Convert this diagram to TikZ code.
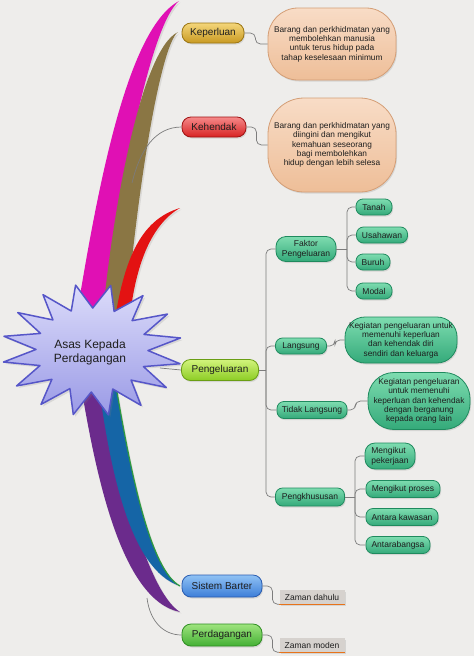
\documentclass[tikz,border=0pt]{standalone}
\usepackage{fontspec}
\setmainfont{Liberation Sans}
\usetikzlibrary{shadows}
\definecolor{bg}{HTML}{EEEDEB}
\definecolor{txt}{HTML}{1E1E1E}
\definecolor{linegray}{HTML}{7C7C7C}
\definecolor{magentaS}{HTML}{E010B4}
\definecolor{oliveS}{HTML}{8A7644}
\definecolor{redS}{HTML}{E31212}
\definecolor{purpleS}{HTML}{6B2B8C}
\definecolor{blueS}{HTML}{1565A6}
\definecolor{greenS}{HTML}{2E9A3E}
\definecolor{starT}{HTML}{DCDCFA}
\definecolor{starB}{HTML}{9A9AE6}
\definecolor{starD}{HTML}{5656C8}
\definecolor{goldT}{HTML}{F4D67A}
\definecolor{goldB}{HTML}{C99A22}
\definecolor{goldD}{HTML}{9C7614}
\definecolor{redT}{HTML}{F58A8A}
\definecolor{redB}{HTML}{D82222}
\definecolor{redD}{HTML}{A01212}
\definecolor{peachT}{HTML}{F8DCC6}
\definecolor{peachB}{HTML}{EEBE98}
\definecolor{peachD}{HTML}{D49E76}
\definecolor{limeT}{HTML}{D2F47C}
\definecolor{limeB}{HTML}{8CCC24}
\definecolor{limeD}{HTML}{6A9E14}
\definecolor{tealT}{HTML}{7EDCB0}
\definecolor{tealB}{HTML}{34AA7A}
\definecolor{tealD}{HTML}{1F8A5E}
\definecolor{blueT}{HTML}{90C2F4}
\definecolor{blueB}{HTML}{3C7ED8}
\definecolor{blueD}{HTML}{2A5CB0}
\definecolor{grnT}{HTML}{9EE47E}
\definecolor{grnB}{HTML}{44B034}
\definecolor{grnD}{HTML}{2F8E22}
\definecolor{grayBox}{HTML}{D6D2CE}
\definecolor{orangeL}{HTML}{E8731A}
\begin{document}
\begin{tikzpicture}[x=1pt,y=-1pt,
  conn/.style={draw=linegray, line width=0.7pt, rounded corners=5pt},
  shd/.style={drop shadow={opacity=0.22, shadow xshift=1pt, shadow yshift=-1.5pt}},
  mainn/.style={shd, rounded corners=9pt, minimum height=20pt, inner sep=0pt,
     font=\fontsize{10}{12}\selectfont, text=txt, line width=0.8pt},
  goldn/.style={mainn, top color=goldT, bottom color=goldB, draw=goldD},
  redn/.style={mainn, top color=redT, bottom color=redB, draw=redD},
  limen/.style={mainn, top color=limeT, bottom color=limeB, draw=limeD},
  bluen/.style={mainn, top color=blueT, bottom color=blueB, draw=blueD},
  grnn/.style={mainn, top color=grnT, bottom color=grnB, draw=grnD},
  tealn/.style={shd, rounded corners=7pt, minimum height=16pt, inner sep=0pt,
     font=\fontsize{8.5}{10}\selectfont, text=txt, line width=0.8pt,
     top color=tealT, bottom color=tealB, draw=tealD},
  tdesc/.style={tealn, align=center, font=\fontsize{8.3}{9.4}\selectfont},
  pdesc/.style={shd, rounded corners=30pt, inner sep=0pt, align=center,
     font=\fontsize{8.3}{9.4}\selectfont, text=txt, line width=0.8pt,
     top color=peachT, bottom color=peachB, draw=peachD},
  grayn/.style={shd, fill=grayBox, inner sep=0pt, minimum height=14pt,
     minimum width=65pt, font=\fontsize{8.5}{10}\selectfont, text=txt},
  orl/.style={draw=orangeL, line width=1.3pt},
  swoosh/.style={drop shadow={opacity=0.18, shadow xshift=1.5pt, shadow yshift=-1.5pt}}
]
\useasboundingbox (0,0) rectangle (474,656);
\fill[bg] (0,0) rectangle (474,656);

% ---- swooshes (upper)
\fill[magentaS, swoosh] (72,345) .. controls (95,200) and (125,30) .. (179,1)
  .. controls (150,25) and (118,190) .. (100,345) -- cycle;
\fill[oliveS, swoosh] (100,345) .. controls (110,220) and (140,50) .. (178,32)
  .. controls (160,45) and (135,200) .. (124,345) -- cycle;
\fill[redS, swoosh] (112,340) .. controls (122,260) and (140,220) .. (180,208)
  .. controls (150,225) and (132,270) .. (128,340) -- cycle;
% ---- swooshes (lower)
\fill[purpleS, swoosh] (80,380) .. controls (95,470) and (120,600) .. (180,612)
  .. controls (145,590) and (115,460) .. (100,380) -- cycle;
\fill[blueS, swoosh] (98,380) .. controls (110,470) and (130,570) .. (180,586)
  .. controls (150,570) and (130,470) .. (115,380) -- cycle;
\draw[greenS, line width=1.2pt] (180,586) .. controls (150,570) and (130,470) .. (115,380);

% ---- nodes
\node[goldn, minimum width=62pt] (kep) at (213,33) {Keperluan};
\node[pdesc, minimum width=128pt, minimum height=72pt] (kepd) at (332,44)
  {Barang dan perkhidmatan yang\\membolehkan manusia\\untuk terus hidup pada\\tahap keselesaan minimum};
\node[redn, minimum width=64pt] (keh) at (214,127) {Kehendak};
\node[pdesc, minimum width=128pt, minimum height=94pt, rounded corners=36pt] (kehd) at (332,145)
  {Barang dan perkhidmatan yang\\diingini dan mengikut\\kemahuan seseorang\\bagi membolehkan\\hidup dengan lebih selesa};
\node[limen, minimum width=77pt, minimum height=21pt] (peng) at (220,370) {Pengeluaran};

\node[tealn, minimum width=60pt, minimum height=25pt, rounded corners=10pt, align=center] (fak) at (306,249) {Faktor\\Pengeluaran};
\node[tealn, minimum width=36pt] (tanah) at (374,207) {Tanah};
\node[tealn, minimum width=51pt] (usa) at (382,235) {Usahawan};
\node[tealn, minimum width=34pt] (buruh) at (373,262) {Buruh};
\node[tealn, minimum width=36pt] (modal) at (374,291) {Modal};

\node[tealn, minimum width=51pt] (lang) at (301,346) {Langsung};
\node[tdesc, minimum width=112pt, minimum height=46pt, rounded corners=20pt] (langd) at (401,340)
  {Kegiatan pengeluaran untuk\\memenuhi keperluan\\dan kehendak diri\\sendiri dan keluarga};
\node[tealn, minimum width=70pt, minimum height=17pt] (tidak) at (312,410) {Tidak Langsung};
\node[tdesc, minimum width=102pt, minimum height=57pt, rounded corners=26pt] (tidakd) at (419,401)
  {Kegiatan pengeluaran\\untuk memenuhi\\keperluan dan kehendak\\dengan berganung\\kepada orang lain};

\node[tealn, minimum width=69pt, minimum height=18pt] (pengk) at (310,497) {Pengkhususan};
\node[tealn, minimum width=50pt, minimum height=26pt, rounded corners=10pt, align=left] (mpek) at (390,456) {Mengikut\\pekerjaan};
\node[tealn, minimum width=74pt, minimum height=17pt] (mpro) at (403,489) {Mengikut proses};
\node[tealn, minimum width=72pt, minimum height=17pt] (akaw) at (402,517) {Antara kawasan};
\node[tealn, minimum width=64pt, minimum height=17pt] (aban) at (398,545) {Antarabangsa};

\node[bluen, minimum width=80pt, minimum height=22pt] (barter) at (222,586) {Sistem Barter};
\node[grayn] (zd) at (312,597) {Zaman dahulu};
\node[grnn, minimum width=80pt, minimum height=22pt] (perd) at (222,635) {Perdagangan};
\node[grayn] (zm) at (312,645) {Zaman moden};
\draw[orl] (zd.south west) -- (zd.south east);
\draw[orl] (zm.south west) -- (zm.south east);

% ---- coordinates for free ends / trunks
\coordinate (kc) at (132,183);
\coordinate (pc) at (160,368);
\coordinate (dc) at (147,598);
\coordinate (tr1) at (266,370);
\coordinate (tr2) at (347,249);
\coordinate (tr3) at (355,497);

% ---- connectors
\draw[conn] (kc) .. controls (140,150) and (155,127) .. (keh.west);
\draw[conn] (dc) .. controls (150,622) and (164,635) .. (perd.west);
\draw[conn] (pc) -- (peng.west);
\draw[conn] (kep.east) -- ++(11,0) |- (kepd.west);
\draw[conn] (keh.east) -- ++(10,0) |- (kehd.west);
\draw[conn] (peng.east) -- (tr1);
\foreach \n in {fak,lang,tidak,pengk} \draw[conn] (tr1) |- (\n.west);
\draw[conn] (fak.east) -- (tr2);
\foreach \n in {tanah,usa,buruh,modal} \draw[conn] (tr2) |- (\n.west);
\draw[conn] (pengk.east) -- (tr3);
\foreach \n in {mpek,mpro,akaw,aban} \draw[conn] (tr3) |- (\n.west);
\draw[conn] (lang.east) -- ++(8,0) |- (langd.west);
\draw[conn] (tidak.east) -- ++(8,0) |- (tidakd.west);
\draw[conn] (barter.east) -- ++(10,0) |- (zd.south west);
\draw[conn] (perd.east) -- ++(10,0) |- (zm.south west);

% ---- star
\path[top color=starT, bottom color=starB, draw=starD, line width=1.5pt, line join=round,
      drop shadow={opacity=0.2, shadow xshift=2pt, shadow yshift=-2pt}]
  plot[variable=\k, samples=33, domain=0:32]
  ({92+(90-34*mod(\k,2))*cos(12+11.25*\k)}, {350+(66-24*mod(\k,2))*sin(12+11.25*\k)}) -- cycle;
\node[font=\fontsize{12}{14}\selectfont, align=center, text=txt] (star) at (90,352) {Asas Kepada\\Perdagangan};
\end{tikzpicture}
\end{document}
